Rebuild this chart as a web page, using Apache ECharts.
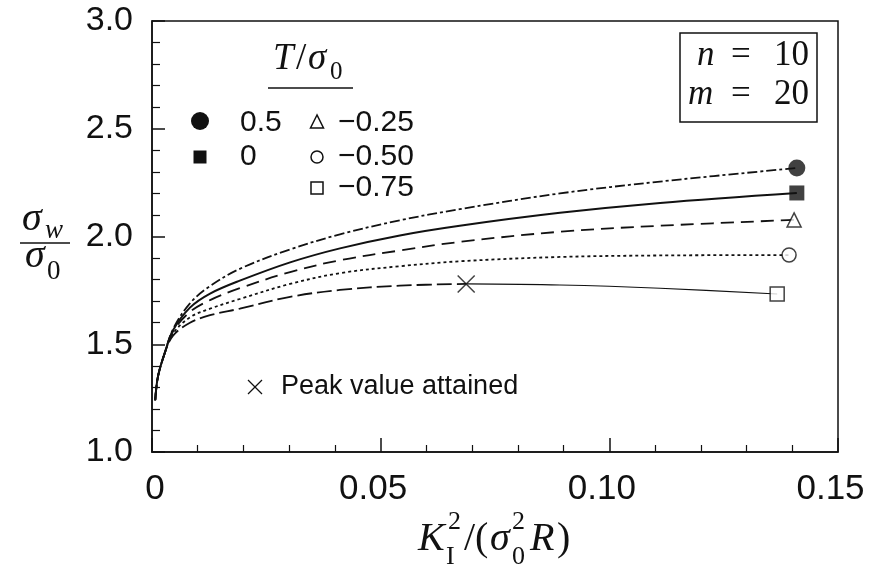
<!DOCTYPE html>
<html>
<head>
<meta charset="utf-8">
<script src="https://cdn.jsdelivr.net/npm/echarts@6/dist/echarts.min.js"></script>
<style>
  html, body { margin: 0; padding: 0; background: #fff; }
  #chart { width: 878px; height: 567px; }
</style>
</head>
<body>
<div id="chart"></div>
<script>
// T/sigma0 values and curve data
const tValues = ['0.5', '0', '\u22120.25', '\u22120.50', '\u22120.75'];

const xRise = [0.0007, 0.0013, 0.0028, 0.0046, 0.0083, 0.0127, 0.0192, 0.0302, 0.0411, 0.0542, 0.0673, 0.0892, 0.1111];

const xP050 = xRise.concat([0.1410]);
const yP050 = [1.24, 1.35, 1.46, 1.57, 1.69, 1.77, 1.85, 1.94, 2.01, 2.075, 2.127, 2.2, 2.255, 2.318];

const xP000 = xRise.concat([0.1410]);
const yP000 = [1.24, 1.35, 1.46, 1.565, 1.67, 1.735, 1.795, 1.88, 1.945, 2.005, 2.05, 2.11, 2.156, 2.202];

const xM025 = xRise.concat([0.1404]);
const yM025 = [1.24, 1.35, 1.46, 1.56, 1.65, 1.705, 1.76, 1.835, 1.89, 1.935, 1.975, 2.022, 2.05, 2.077];

const xM050 = xRise.concat([0.1393]);
const yM050 = [1.24, 1.35, 1.46, 1.55, 1.625, 1.665, 1.71, 1.78, 1.83, 1.862, 1.885, 1.905, 1.912, 1.914];

// -0.75 : rising part up to the peak, then the falling part
const xM075a = [0.0007, 0.0013, 0.0028, 0.0046, 0.0083, 0.0127, 0.0192, 0.0302, 0.0411, 0.0542, 0.0687];
const yM075a = [1.24, 1.35, 1.46, 1.54, 1.60, 1.635, 1.665, 1.72, 1.752, 1.772, 1.78];
const xM075b = [0.0687, 0.0892, 0.1111, 0.1367];
const yM075b = [1.78, 1.775, 1.76, 1.733];

const xTicks = [0, 0.05, 0.10, 0.15];
const yTicks = [1.0, 1.5, 2.0, 2.5, 3.0];

const ink = '#111';
const pairs = (xs, ys) => xs.map((x, i) => [x, ys[i]]);
const last = (xs, ys) => [[xs[xs.length - 1], ys[ys.length - 1]]];

function curve(xs, ys, type, width) {
  return {
    type: 'line', data: pairs(xs, ys), symbol: 'none', smooth: 0.35,
    lineStyle: { color: ink, width: width, type: type }, z: 2, silent: true
  };
}

function endMark(xs, ys, symbol, size, filled) {
  return {
    type: 'scatter', data: last(xs, ys), symbol: symbol, symbolSize: size, z: 5, silent: true,
    itemStyle: filled ? { color: ink } : { color: '#fff', borderColor: ink, borderWidth: 1.5 }
  };
}

// text helper: x = left edge (or per align), base = baseline
function tx(str, x, base, size, opts) {
  opts = opts || {};
  const fam = opts.sans ? '"Liberation Sans"' : '"Liberation Serif"';
  return {
    type: 'text', x: x, y: base - 0.34 * size, silent: true, z: 20,
    style: {
      text: str, fill: ink,
      font: (opts.it ? 'italic ' : '') + size + 'px ' + fam,
      textAlign: opts.align || 'left', align: opts.align || 'left',
      textVerticalAlign: 'middle', verticalAlign: 'middle'
    }
  };
}
function ln(x1, y1, x2, y2, w) {
  return { type: 'line', silent: true, z: 20, shape: { x1, y1, x2, y2 }, style: { stroke: ink, lineWidth: w || 1.5 } };
}

const chart = echarts.init(document.getElementById('chart'));

const graphics = [
  // legend title T/sigma0
  tx('T', 273, 72, 37, { it: true }),
  tx('/', 296, 72, 37),
  tx('\u03c3', 308, 72, 37, { it: true }),
  tx('0', 330, 81, 25),
  ln(268, 88, 353, 88, 1.5),
  // legend rows
  { type: 'circle', silent: true, z: 20, shape: { cx: 200, cy: 121, r: 9 }, style: { fill: ink } },
  tx(tValues[0], 240, 133, 30, { sans: true }),
  { type: 'rect', silent: true, z: 20, shape: { x: 193.5, y: 150.5, width: 13, height: 13 }, style: { fill: ink } },
  tx(tValues[1], 240, 167, 30, { sans: true }),
  { type: 'polygon', silent: true, z: 20, shape: { points: [[317, 115], [310.5, 128], [323.5, 128]] }, style: { fill: '#fff', stroke: ink, lineWidth: 1.5 } },
  tx(tValues[2], 338, 133, 30, { sans: true }),
  { type: 'circle', silent: true, z: 20, shape: { cx: 317, cy: 157, r: 6 }, style: { fill: '#fff', stroke: ink, lineWidth: 1.5 } },
  tx(tValues[3], 338, 167, 30, { sans: true }),
  { type: 'rect', silent: true, z: 20, shape: { x: 311, y: 182, width: 12, height: 12 }, style: { fill: '#fff', stroke: ink, lineWidth: 1.5 } },
  tx(tValues[4], 338, 198, 30, { sans: true }),
  // peak note
  ln(248, 380, 262, 394, 1.3),
  ln(248, 394, 262, 380, 1.3),
  tx('Peak value attained', 281, 396, 27, { sans: true }),
  // n, m box
  { type: 'rect', silent: true, z: 20, shape: { x: 680, y: 33, width: 137, height: 89 }, style: { fill: 'none', stroke: ink, lineWidth: 1.5 } },
  tx('n', 697, 68, 35, { it: true }),
  tx('=', 731, 68, 35),
  tx('10', 774, 68, 35),
  tx('m', 688, 107, 35, { it: true }),
  tx('=', 731, 107, 35),
  tx('20', 774, 107, 35),
  // y axis name sigma_w / sigma_0
  tx('\u03c3', 22, 233, 40, { it: true }),
  tx('w', 45, 240, 27, { it: true }),
  ln(20, 243, 70, 243, 1.5),
  tx('\u03c3', 25, 270, 40, { it: true }),
  tx('0', 47, 281, 27),
  // x axis name K_I^2/(sigma_0^2 R)
  tx('K', 418, 553, 40, { it: true }),
  tx('2', 448, 531, 26),
  tx('I', 446, 566, 26),
  tx('/(', 464, 553, 40),
  tx('\u03c3', 490, 553, 40, { it: true }),
  tx('2', 512, 531, 26),
  tx('0', 512, 566, 26),
  tx('R', 530, 553, 40, { it: true }),
  tx(')', 557, 553, 40)
];

const options = {
  animation: false,
  backgroundColor: '#fff',
  grid: { left: 152, top: 21, width: 686, height: 431, show: true, borderColor: ink, borderWidth: 1.5, backgroundColor: 'transparent' },
  xAxis: {
    type: 'value', min: xTicks[0], max: xTicks[xTicks.length - 1], interval: 0.05,
    axisLine: { lineStyle: { color: ink, width: 1.5 } },
    axisTick: { inside: true, length: 14, lineStyle: { color: ink, width: 1.5 } },
    minorTick: { show: true, splitNumber: 5, length: 7, lineStyle: { color: ink, width: 1.2 } },
    splitLine: { show: false },
    axisLabel: {
      margin: 20, color: ink, fontFamily: 'Liberation Sans', fontSize: 35,
      formatter: v => v === 0 ? '{z|0}' : '{n|' + v.toFixed(2) + '}',
      rich: {
        z: { fontFamily: 'Liberation Sans', fontSize: 35, color: ink, padding: [0, 0, 0, 6] },
        n: { fontFamily: 'Liberation Sans', fontSize: 35, color: ink, padding: [0, 15, 0, 0] }
      }
    }
  },
  yAxis: {
    type: 'value', min: yTicks[0], max: yTicks[yTicks.length - 1], interval: 0.5,
    axisLine: { lineStyle: { color: ink, width: 1.5 } },
    axisTick: { inside: true, length: 13, lineStyle: { color: ink, width: 1.5 } },
    minorTick: { show: true, splitNumber: 5, length: 8, lineStyle: { color: ink, width: 1.2 } },
    splitLine: { show: false },
    axisLabel: { margin: 19, color: ink, fontFamily: 'Liberation Sans', fontSize: 34, formatter: v => v.toFixed(1) }
  },
  series: [
    curve(xP050, yP050, [10, 3, 3, 3], 1.8),
    curve(xP000, yP000, 'solid', 2),
    curve(xM025, yM025, [13, 7], 1.8),
    curve(xM050, yM050, [3, 3], 1.8),
    curve(xM075a, yM075a, [15, 5], 1.8),
    curve(xM075b, yM075b, 'solid', 1.1),
    endMark(xP050, yP050, 'circle', 17, true),
    endMark(xP000, yP000, 'rect', 15, true),
    endMark(xM025, yM025, 'triangle', 14, false),
    endMark(xM050, yM050, 'circle', 14, false),
    endMark(xM075b, yM075b, 'rect', 14, false),
    {
      type: 'scatter', data: last(xM075a, yM075a), symbol: 'path://M0,0L10,10M10,0L0,10', symbolSize: 17, z: 5, silent: true,
      itemStyle: { color: 'none', borderColor: ink, borderWidth: 1.5 }
    }
  ],
  graphic: { elements: graphics }
};

chart.setOption(options);
</script>
</body>
</html>
